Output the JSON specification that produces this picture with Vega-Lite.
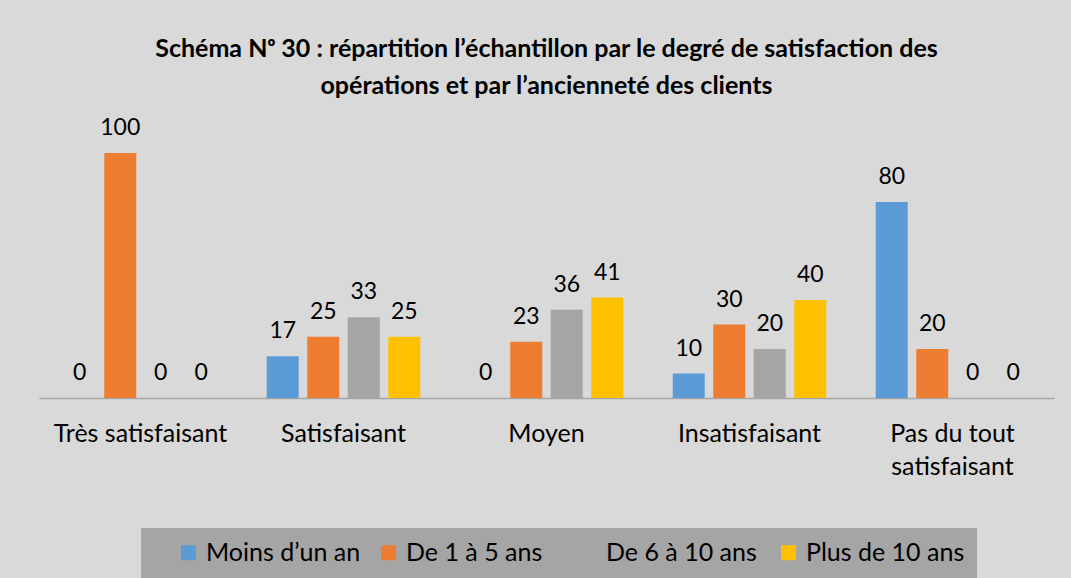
{
  "$schema": "https://vega.github.io/schema/vega-lite/v6.json",
  "autosize": "none",
  "width": 1015,
  "height": 294,
  "padding": {"left": 39, "top": 104, "right": 17, "bottom": 180},
  "background": "#d9d9d9",
  "config": {
    "view": {"stroke": null},
    "font": "Lato"
  },
  "title": {
    "text": ["Schéma Nᵒ 30 : répartition l’échantillon par le degré de satisfaction des", "opérations et par l’ancienneté des clients"],
    "font": "Lato",
    "fontSize": 25,
    "fontWeight": "bold",
    "color": "#000000",
    "lineHeight": 37,
    "offset": 5,
    "anchor": "middle"
  },
  "data": {
    "values": [
      {"cat": "Très satisfaisant", "serie": "Moins d’un an", "v": 0},
      {"cat": "Très satisfaisant", "serie": "De 1 à 5 ans", "v": 100},
      {"cat": "Très satisfaisant", "serie": "De 6 à 10 ans", "v": 0},
      {"cat": "Très satisfaisant", "serie": "Plus de 10 ans", "v": 0},
      {"cat": "Satisfaisant", "serie": "Moins d’un an", "v": 17},
      {"cat": "Satisfaisant", "serie": "De 1 à 5 ans", "v": 25},
      {"cat": "Satisfaisant", "serie": "De 6 à 10 ans", "v": 33},
      {"cat": "Satisfaisant", "serie": "Plus de 10 ans", "v": 25},
      {"cat": "Moyen", "serie": "Moins d’un an", "v": 0},
      {"cat": "Moyen", "serie": "De 1 à 5 ans", "v": 23},
      {"cat": "Moyen", "serie": "De 6 à 10 ans", "v": 36},
      {"cat": "Moyen", "serie": "Plus de 10 ans", "v": 41},
      {"cat": "Insatisfaisant", "serie": "Moins d’un an", "v": 10},
      {"cat": "Insatisfaisant", "serie": "De 1 à 5 ans", "v": 30},
      {"cat": "Insatisfaisant", "serie": "De 6 à 10 ans", "v": 20},
      {"cat": "Insatisfaisant", "serie": "Plus de 10 ans", "v": 40},
      {"cat": "Pas du tout satisfaisant", "serie": "Moins d’un an", "v": 80},
      {"cat": "Pas du tout satisfaisant", "serie": "De 1 à 5 ans", "v": 20},
      {"cat": "Pas du tout satisfaisant", "serie": "De 6 à 10 ans", "v": 0},
      {"cat": "Pas du tout satisfaisant", "serie": "Plus de 10 ans", "v": 0}
    ]
  },
  "encoding": {
    "x": {
      "field": "cat",
      "type": "nominal",
      "sort": ["Très satisfaisant", "Satisfaisant", "Moyen", "Insatisfaisant", "Pas du tout satisfaisant"],
      "scale": {"paddingInner": 0, "paddingOuter": 0},
      "axis": {
        "title": null,
        "labelAngle": 0,
        "ticks": false,
        "domainColor": "#a6a6a6",
        "domainWidth": 1.5,
        "labelFont": "Lato",
        "labelFontSize": 25,
        "labelColor": "#000000",
        "labelPadding": 23,
        "labelLineHeight": 33,
        "labelLimit": 0,
        "labelExpr": "datum.label == 'Pas du tout satisfaisant' ? ['Pas du tout', 'satisfaisant'] : datum.label"
      }
    },
    "xOffset": {
      "field": "serie",
      "type": "nominal",
      "sort": ["Moins d’un an", "De 1 à 5 ans", "De 6 à 10 ans", "Plus de 10 ans"],
      "scale": {"paddingInner": 0.21, "paddingOuter": 0.611}
    },
    "y": {
      "field": "v",
      "type": "quantitative",
      "scale": {"domain": [0, 120], "nice": false},
      "axis": null
    }
  },
  "layer": [
    {
      "mark": {"type": "bar"},
      "encoding": {
        "color": {
          "field": "serie",
          "type": "nominal",
          "sort": ["Moins d’un an", "De 1 à 5 ans", "De 6 à 10 ans", "Plus de 10 ans"],
          "scale": {
            "domain": ["Moins d’un an", "De 1 à 5 ans", "De 6 à 10 ans", "Plus de 10 ans"],
            "range": ["#5b9bd5", "#ed7d31", "#a5a5a5", "#ffc000"]
          },
          "legend": {
            "orient": "none",
            "legendX": 102,
            "legendY": 424,
            "direction": "horizontal",
            "columns": 4,
            "gridAlign": "all",
            "fillColor": "#a5a5a5",
            "padding": 12,
            "title": " ",
            "titleOrient": "left",
            "titleFontSize": 10,
            "titlePadding": 23,
            "symbolType": "square",
            "symbolSize": 225,
            "symbolStrokeWidth": 0,
            "labelFont": "Lato",
            "labelFontSize": 25,
            "labelColor": "#000000",
            "labelOffset": 5,
            "labelLimit": 0,
            "columnPadding": 11
          }
        }
      }
    },
    {
      "mark": {"type": "text", "baseline": "alphabetic", "dy": -18, "fontSize": 23, "font": "Lato", "color": "#000000"},
      "encoding": {
        "text": {"field": "v", "type": "quantitative"}
      }
    }
  ]
}
